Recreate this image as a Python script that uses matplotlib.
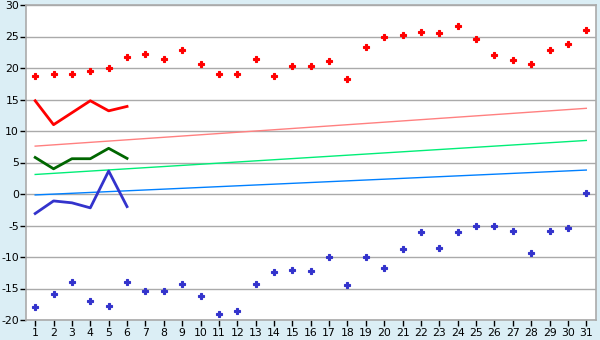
import matplotlib
matplotlib.use("Agg")
import matplotlib.pyplot as plt

plt.rcParams["axes.unicode_minus"] = False

days = list(range(1, 32))
max_points = [18.7, 19.0, 19.0, 19.6, 20.0, 21.7, 22.2, 21.5, 22.8, 20.7,
              19.0, 19.0, 21.5, 18.7, 20.3, 20.3, 21.1, 18.2, 23.3, 25.0,
              25.3, 25.7, 25.5, 26.6, 24.6, 22.0, 21.2, 20.7, 22.8, 23.8, 26.1]
min_points = [-18.0, -15.9, -14.0, -17.0, -17.7, -14.0, -15.4, -15.4, -14.3, -16.2,
              -19.1, -18.6, -14.3, -12.4, -12.1, -12.3, -10.0, -14.5, -10.0, -11.8,
              -8.8, -6.1, -8.6, -6.1, -5.0, -5.0, -5.9, -9.4, -5.9, -5.4, 0.1]
line_days = [1, 2, 3, 4, 5, 6]
max_line = [14.8, 11.0, 12.9, 14.8, 13.2, 13.9]
mean_line = [5.8, 4.0, 5.6, 5.6, 7.25, 5.65]
min_line = [-3.1, -1.1, -1.4, -2.2, 3.65, -2.0]
trend_days = [1, 31]
max_trend = [7.6, 13.6]
mean_trend = [3.1, 8.5]
min_trend = [-0.15, 3.8]
yticks = list(range(-20, 31, 5))

bg = "#dbeef5"
fig = plt.figure(figsize=(6, 3.4), dpi=100, facecolor=bg)
ax = fig.add_axes([26/600, 1 - 320/340, (595.5 - 26)/600, (320 - 5)/340])
ax.set_facecolor("white")

ax.plot(trend_days, max_trend, color="#ff8080", lw=1.0, zorder=2)
ax.plot(trend_days, mean_trend, color="#00ee77", lw=1.0, zorder=2)
ax.plot(trend_days, min_trend, color="#0080ff", lw=1.0, zorder=2)

ax.plot(line_days, max_line, color="#ff0000", lw=2, zorder=3)
ax.plot(line_days, mean_line, color="#006600", lw=2, zorder=3)
ax.plot(line_days, min_line, color="#3333cc", lw=2, zorder=3)

for vals, col in ((max_points, "#ff0000"), (min_points, "#3333cc")):
    ax.plot(days, vals, ls="none", marker="P", ms=4.6, color=col, mec=col, mew=0.8, zorder=4)

ax.set_xlim(0.5, 31.5)
ax.set_ylim(-20, 30)
ax.set_yticks(yticks)
ax.set_xticks(days)
ax.grid(axis="y", color="#aaaaaa", lw=1.0, zorder=1)
ax.set_axisbelow(True)
for s in ax.spines.values():
    s.set_color("#aaaaaa")
    s.set_linewidth(1.2)
ax.tick_params(axis="both", colors="#000000", labelsize=7.8, length=4, width=1, pad=2)
ax.tick_params(axis="y", pad=1)

fig.savefig("out.png", dpi=100, facecolor=bg)
